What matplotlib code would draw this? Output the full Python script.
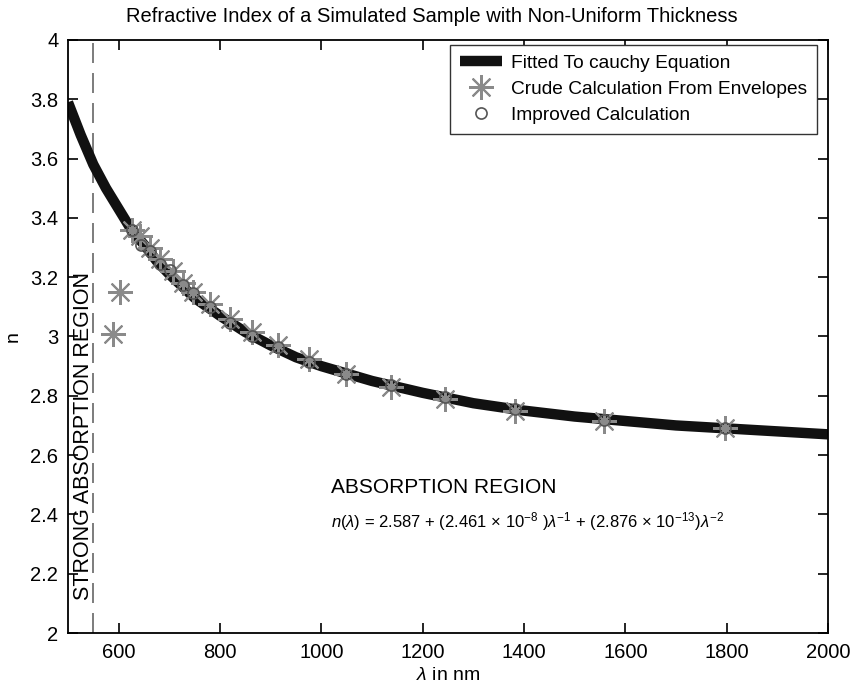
import matplotlib
matplotlib.use("Agg")
import matplotlib.pyplot as plt
from matplotlib.ticker import FormatStrFormatter

plt.rcParams['font.family'] = ['Liberation Sans', 'DejaVu Sans']
plt.rcParams['mathtext.fontset'] = 'custom'
plt.rcParams['mathtext.rm'] = 'Liberation Sans'
plt.rcParams['mathtext.it'] = 'Liberation Sans:italic'

# fitted cauchy curve
fit_wl = [500, 525, 550, 575, 600, 625, 650, 675, 700, 750, 800, 850, 900, 950,
          1000, 1100, 1200, 1300, 1400, 1500, 1600, 1700, 1800, 1900, 2000]
fit_n = [3.79, 3.68, 3.58, 3.50, 3.43, 3.36, 3.31, 3.255, 3.21, 3.13, 3.07, 3.015,
         2.97, 2.93, 2.90, 2.85, 2.81, 2.775, 2.75, 2.73, 2.715, 2.70, 2.69, 2.68, 2.67]

# crude calculation from envelopes
crude_wl = [589, 603, 626, 642, 662, 681, 707, 727, 747, 780, 820, 863, 915, 975,
            1048, 1137, 1245, 1382, 1557, 1796]
crude_n = [3.01, 3.15, 3.36, 3.34, 3.30, 3.26, 3.22, 3.18, 3.15, 3.11, 3.06, 3.015,
           2.97, 2.925, 2.875, 2.83, 2.79, 2.75, 2.715, 2.69]

# improved calculation
imp_wl = [626, 645, 662, 681, 701, 727, 747, 780, 820, 863, 915, 975, 1048, 1137,
          1245, 1382, 1557, 1796]
imp_n = [3.36, 3.31, 3.29, 3.245, 3.225, 3.175, 3.145, 3.10, 3.045, 3.00, 2.965,
         2.915, 2.875, 2.835, 2.795, 2.755, 2.72, 2.69]

fig = plt.figure(figsize=(8.54, 6.87), dpi=100)
ax = fig.add_axes([0.0796, 0.0786, 0.89, 0.8632])

ax.plot(fit_wl, fit_n, color='#111111', lw=7.5, solid_capstyle='butt',
        label='Fitted To cauchy Equation', zorder=2)
ax.plot(crude_wl, crude_n, ls='none', marker=(8, 2, 0), ms=18, mew=1.5,
        color='#8a8a8a', label='Crude Calculation From Envelopes', zorder=3)
ax.plot(imp_wl, imp_n, ls='none', marker='o', ms=8, mfc='none', mec='#555555',
        mew=1.2, label='Improved Calculation', zorder=4)

ax.axvline(550, color='#666666', lw=1.2, ls=(0, (12, 6)), zorder=1)

ax.text(531, 2.665, 'STRONG ABSORPTION REGION', rotation=90, ha='center',
        va='center', fontsize=15.5)
ax.text(1020, 2.49, 'ABSORPTION REGION', ha='left', va='center', fontsize=15)
ax.text(1020, 2.375,
        r'$n(\lambda)$ = 2.587 + (2.461 $\times$ 10$^{-8}$ )$\lambda^{-1}$ + '
        r'(2.876 $\times$ 10$^{-13}$)$\lambda^{-2}$',
        ha='left', va='center', fontsize=12)

ax.set_xlim(500, 2000)
ax.set_ylim(2, 4)
ax.set_xticks([600, 800, 1000, 1200, 1400, 1600, 1800, 2000])
ax.set_yticks([2, 2.2, 2.4, 2.6, 2.8, 3, 3.2, 3.4, 3.6, 3.8, 4])
ax.yaxis.set_major_formatter(FormatStrFormatter('%g'))
ax.tick_params(direction='in', top=True, right=True, length=7, width=1.2,
               labelsize=14.5, pad=7)
for s in ax.spines.values():
    s.set_linewidth(1.3)

ax.set_xlabel(r'$\it{\lambda}$ in nm', fontsize=14, labelpad=4)
ax.set_ylabel('n', fontsize=14, labelpad=6)
ax.set_title('Refractive Index of a Simulated Sample with Non-Uniform Thickness',
             fontsize=14.5, x=0.479, pad=13)

leg = ax.legend(loc='upper right', fontsize=13.8, frameon=True, fancybox=False,
                edgecolor='#333333', framealpha=1, borderpad=0.5,
                borderaxespad=0, handlelength=2.2, handletextpad=0.5,
                labelspacing=0.45, bbox_to_anchor=(0.9855, 0.9916))
leg.get_frame().set_linewidth(1.0)

fig.savefig('out.png', dpi=100)
